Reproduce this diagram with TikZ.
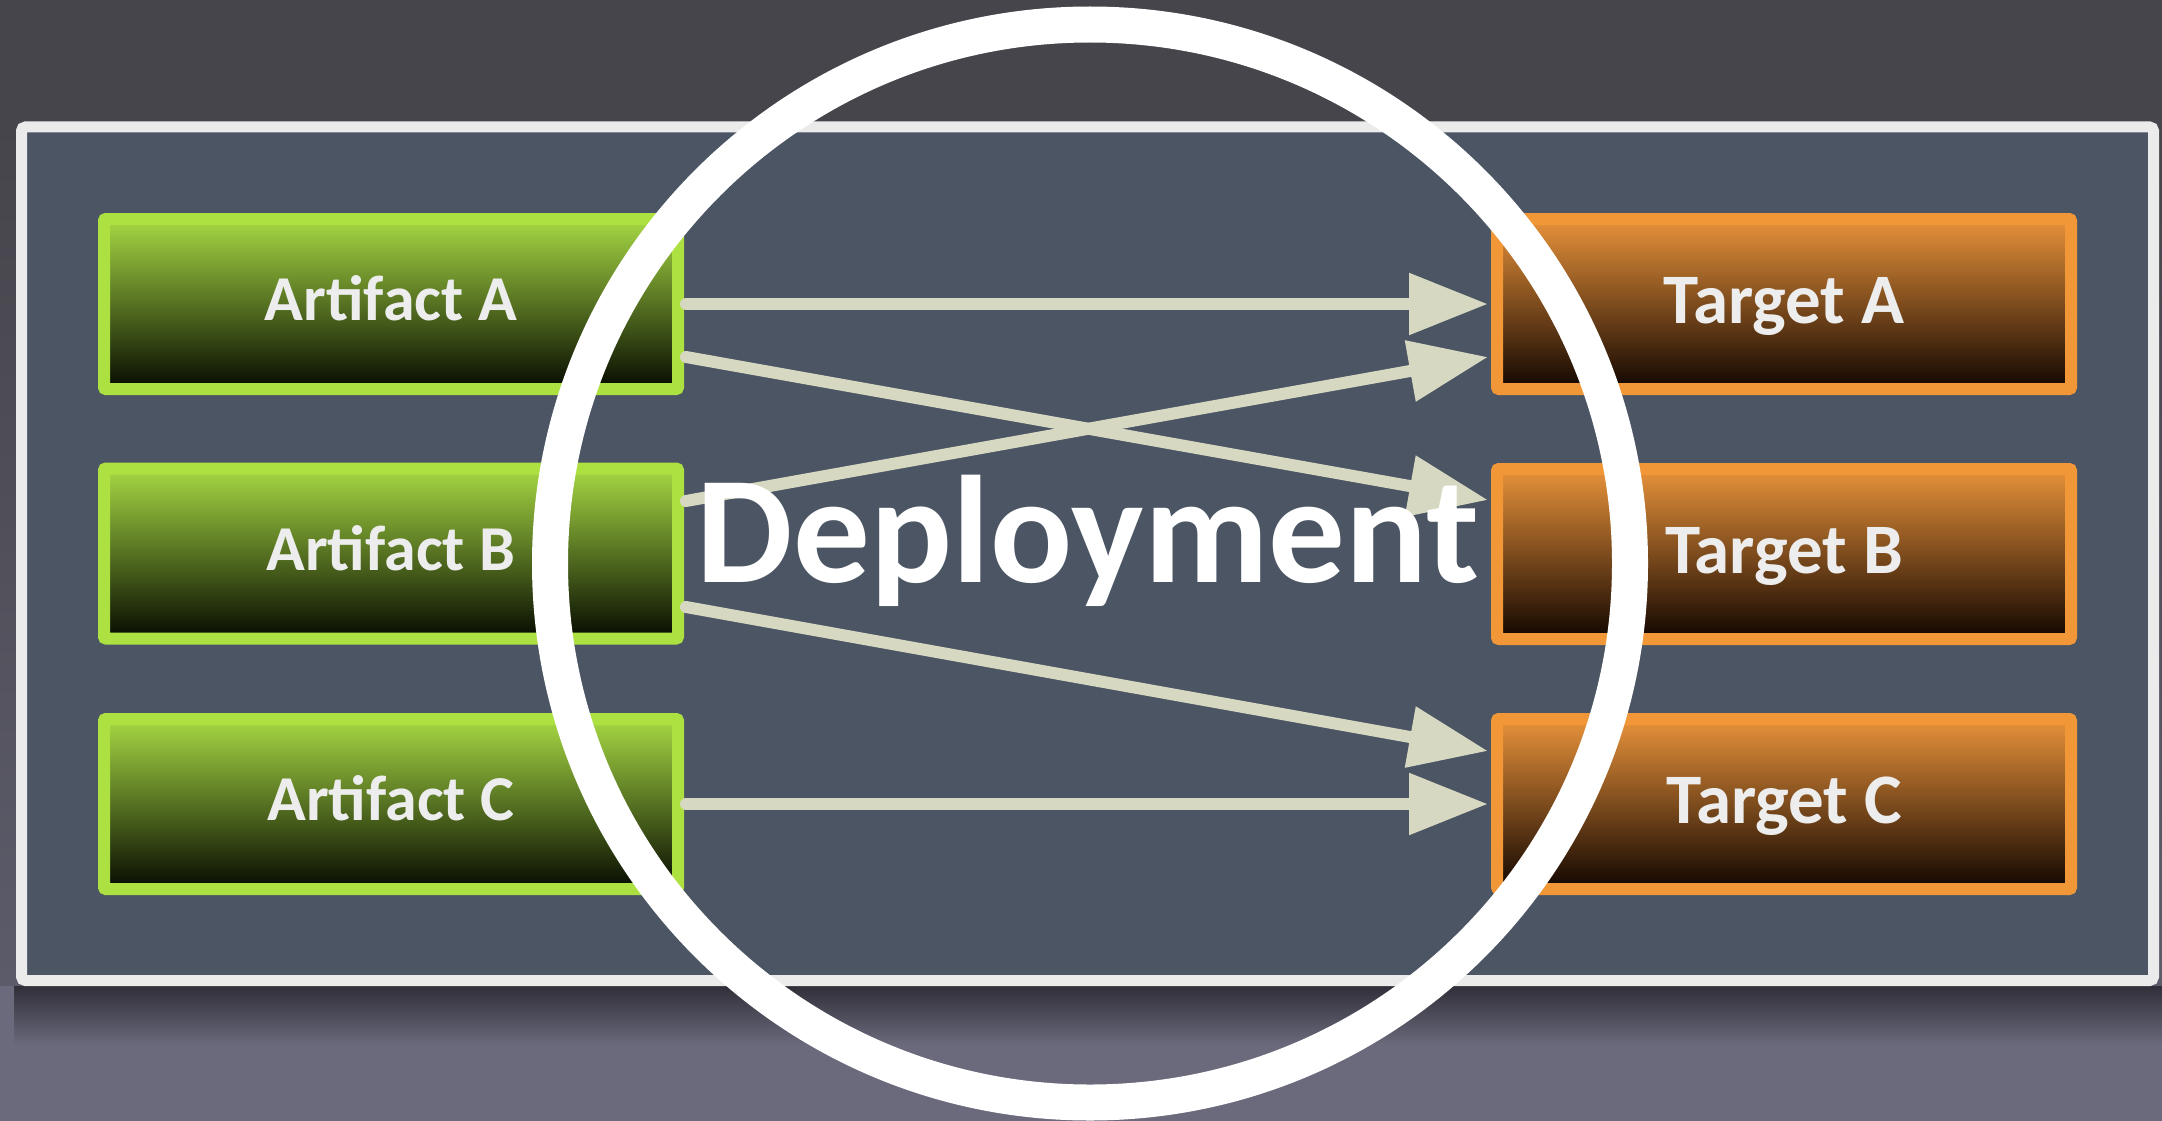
\documentclass[tikz,border=0pt]{standalone}
\usepackage{fontspec}
\setmainfont{Carlito}
\usetikzlibrary{arrows.meta}
\definecolor{bgtop}{HTML}{46454B}
\definecolor{bgside}{HTML}{5C5B6A}
\definecolor{bgbot}{HTML}{6A6A7C}
\definecolor{shadowc}{HTML}{302F39}
\definecolor{panelfill}{HTML}{4B5563}
\definecolor{panelline}{HTML}{EBEBEB}
\definecolor{artline}{HTML}{ADE142}
\definecolor{arttop}{HTML}{A6D843}
\definecolor{artmid}{HTML}{67862A}
\definecolor{artbot}{HTML}{060A00}
\definecolor{tgtline}{HTML}{F29737}
\definecolor{tgttop}{HTML}{E8923A}
\definecolor{tgtmid}{HTML}{8C541E}
\definecolor{tgtbot}{HTML}{110500}
\definecolor{labeltext}{HTML}{EDEDED}
\definecolor{connc}{HTML}{D7D8C2}
\begin{document}
\begin{tikzpicture}[x=1pt,y=-1pt,
  box/.style={line width=12pt, minimum width=574pt, minimum height=170pt,
    rounded corners=2pt, inner sep=0pt, text=labeltext},
  artbox/.style={box, draw=artline, top color=arttop, middle color=artmid, bottom color=artbot,
    font=\bfseries\fontsize{64}{64}\selectfont, text height=41pt, text depth=8pt},
  tgtbox/.style={box, draw=tgtline, top color=tgttop, middle color=tgtmid, bottom color=tgtbot,
    font=\bfseries\fontsize{71}{71}\selectfont, text height=45pt, text depth=7pt},
  conn/.style={draw=connc, line width=12pt, line cap=round,
    -{Triangle[length=79pt,width=59pt]}},
  ring/.style={draw=white, line width=36pt}
]
\useasboundingbox (0,0) rectangle (2162,1121);
% background
\fill[bgtop] (0,0) rectangle (2162,121);
\shade[top color=bgtop, bottom color=bgside] (0,121) rectangle (2162,986);
\fill[bgbot] (0,986) rectangle (2162,1121);
\shade[top color=shadowc, bottom color=bgbot] (14,986) rectangle (2162,1045);
% panel
\draw[draw=panelline, line width=11pt, rounded corners=4pt, fill=panelfill]
  (21.5,127) rectangle (2153.5,980.5);
% boxes
\node[artbox] (A1) at (391,304) {Artifact A};
\node[artbox] (A2) at (391,553.5) {Artifact B};
\node[artbox] (A3) at (391,804) {Artifact C};
\node[tgtbox] (T1) at (1784,304) {Target A};
\node[tgtbox] (T2) at (1784,554) {Target B};
\node[tgtbox] (T3) at (1784,804) {Target C};
% connectors
\draw[conn] ([xshift=2pt]A1.east) -- ([xshift=-3pt]T1.west);
\draw[conn] ([xshift=2pt,yshift=-53pt]A1.east) -- ([xshift=-3pt,yshift=54pt]T2.west);
\draw[conn] ([xshift=2pt,yshift=52.5pt]A2.east) -- ([xshift=-3pt,yshift=-53pt]T1.west);
\draw[conn] ([xshift=2pt,yshift=-53.5pt]A2.east) -- ([xshift=-3pt,yshift=53pt]T3.west);
\draw[conn] ([xshift=2pt]A3.east) -- ([xshift=-3pt]T3.west);
% ring
\draw[ring] (1090,563.5) ellipse [x radius=540pt, y radius=539pt];
% title
\node[text=white, inner sep=0pt, font=\bfseries\fontsize{153}{153}\selectfont,
  text height=97pt, text depth=0pt] (title) at (1088,533.5) {Deployment};
\end{tikzpicture}
\end{document}
